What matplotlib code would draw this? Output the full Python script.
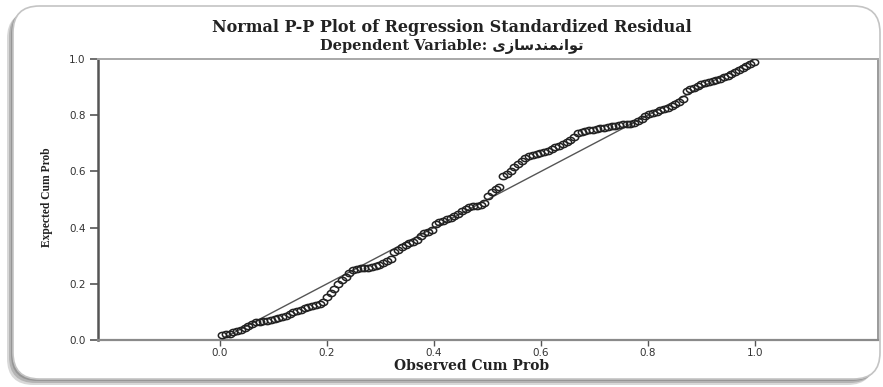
import matplotlib
matplotlib.use("Agg")
import matplotlib.pyplot as plt
from matplotlib.patches import FancyBboxPatch
from matplotlib.path import Path
import numpy as np

# ---- data ----
observed = [0.004, 0.011, 0.018, 0.025, 0.032, 0.039, 0.046, 0.053, 0.060, 0.067,
            0.074, 0.081, 0.088, 0.095, 0.102, 0.109, 0.116, 0.123, 0.130, 0.137,
            0.144, 0.151, 0.158, 0.165, 0.172, 0.179, 0.186, 0.193, 0.200, 0.207,
            0.214, 0.221, 0.228, 0.235, 0.242, 0.249, 0.256, 0.263, 0.270, 0.277,
            0.284, 0.291, 0.298, 0.305, 0.312, 0.319, 0.326, 0.333, 0.340, 0.347,
            0.354, 0.361, 0.368, 0.375, 0.382, 0.389, 0.396, 0.403, 0.410, 0.417,
            0.424, 0.431, 0.438, 0.445, 0.452, 0.459, 0.466, 0.473, 0.480, 0.487,
            0.494, 0.501, 0.508, 0.515, 0.522, 0.529, 0.536, 0.543, 0.550, 0.557,
            0.564, 0.571, 0.578, 0.585, 0.592, 0.599, 0.606, 0.613, 0.620, 0.627,
            0.634, 0.641, 0.648, 0.655, 0.662, 0.669, 0.676, 0.683, 0.690, 0.697,
            0.704, 0.711, 0.718, 0.725, 0.732, 0.739, 0.746, 0.753, 0.760, 0.767,
            0.774, 0.781, 0.788, 0.795, 0.802, 0.809, 0.816, 0.823, 0.830, 0.837,
            0.844, 0.851, 0.858, 0.865, 0.872, 0.879, 0.886, 0.893, 0.900, 0.907,
            0.914, 0.921, 0.928, 0.935, 0.942, 0.949, 0.956, 0.963, 0.970, 0.977,
            0.984, 0.991, 0.998]
expected = [0.017, 0.020, 0.023, 0.027, 0.031, 0.037, 0.044, 0.051, 0.058, 0.063,
            0.065, 0.067, 0.068, 0.071, 0.074, 0.078, 0.082, 0.087, 0.093, 0.100,
            0.104, 0.108, 0.113, 0.117, 0.120, 0.124, 0.128, 0.136, 0.152, 0.168,
            0.182, 0.200, 0.212, 0.225, 0.240, 0.248, 0.252, 0.255, 0.257, 0.258,
            0.260, 0.262, 0.268, 0.275, 0.282, 0.290, 0.314, 0.322, 0.330, 0.337,
            0.344, 0.350, 0.357, 0.370, 0.380, 0.386, 0.392, 0.412, 0.420, 0.425,
            0.430, 0.434, 0.440, 0.448, 0.458, 0.465, 0.472, 0.476, 0.478, 0.480,
            0.488, 0.512, 0.526, 0.536, 0.543, 0.582, 0.592, 0.602, 0.615, 0.626,
            0.637, 0.648, 0.654, 0.658, 0.661, 0.664, 0.668, 0.673, 0.680, 0.686,
            0.692, 0.698, 0.705, 0.712, 0.722, 0.736, 0.740, 0.743, 0.746, 0.749,
            0.752, 0.754, 0.755, 0.757, 0.760, 0.763, 0.765, 0.767, 0.768, 0.770,
            0.773, 0.779, 0.788, 0.796, 0.803, 0.808, 0.812, 0.817, 0.822, 0.827,
            0.833, 0.840, 0.847, 0.856, 0.885, 0.892, 0.898, 0.905, 0.910, 0.914,
            0.918, 0.922, 0.926, 0.930, 0.935, 0.940, 0.946, 0.952, 0.960, 0.968,
            0.976, 0.982, 0.988]
ref_line = [0.0, 1.0]
x_ticks = [0.0, 0.2, 0.4, 0.6, 0.8, 1.0]
y_ticks = [0.0, 0.2, 0.4, 0.6, 0.8, 1.0]
tick_labels = ["0.0", "0.2", "0.4", "0.6", "0.8", "1.0"]

title1 = "Normal P-P Plot of Regression Standardized Residual"
# Persian word توانمندسازی in presentation forms, visual (left-to-right) order
persian = "\uFBFC\uFEAF\uFE8E\uFEB3\uFEAA\uFEE8\uFEE4\uFEE7\uFE8D\uFEEE\uFE97"
title2 = "Dependent Variable: " + persian

W, H = 883, 387
fig = plt.figure(figsize=(W / 100, H / 100), dpi=100)
fig.patch.set_facecolor("white")

# outer rounded frame with soft shadow
for dx, c in [(6, "#d8d8d8"), (4, "#b4b4b4"), (2, "#969696")]:
    sh = FancyBboxPatch(((13 - dx) / W, (8 - dx) / H), 867 / W, 373 / H,
                        boxstyle="round,pad=0,rounding_size=0.03",
                        transform=fig.transFigure, facecolor=c,
                        edgecolor="none", zorder=0, mutation_aspect=W / H)
    fig.patches.append(sh)
frame = FancyBboxPatch((13 / W, 8 / H), 867 / W, 373 / H,
                       boxstyle="round,pad=0,rounding_size=0.03",
                       transform=fig.transFigure, facecolor="white",
                       edgecolor="#c4c4c4", linewidth=1.2, zorder=1,
                       mutation_aspect=W / H)
fig.patches.append(frame)

ax = fig.add_axes([98 / W, (H - 340) / H, (878 - 98) / W, (340 - 59) / H])
ax.set_facecolor("white")
ax.set_zorder(2)
x0, x1 = 220, 755
ax.set_xlim((98 - x0) / (x1 - x0), (878 - x0) / (x1 - x0))
ax.set_ylim(0, 1)

# slightly wide ellipse marker (the original picture is stretched horizontally)
t = np.linspace(0, 2 * np.pi, 40)
ell = Path(np.column_stack([np.cos(t), 0.75 * np.sin(t)]), closed=True)

ax.plot(ref_line, ref_line, color="#555555", linewidth=1.0, zorder=2)
ax.plot(observed, expected, linestyle="none", marker=ell, markersize=6.0,
        markerfacecolor="none", markeredgecolor="#222222",
        markeredgewidth=1.1, zorder=3)

ax.set_xticks(x_ticks)
ax.set_xticklabels(tick_labels)
ax.set_yticks(y_ticks)
ax.set_yticklabels(tick_labels)
for lab in ax.get_xticklabels() + ax.get_yticklabels():
    lab.set_family("DejaVu Sans")
    lab.set_fontsize(7.5)
    lab.set_color("#333333")
ax.tick_params(axis="x", length=4, width=1, color="#555555", pad=2)
ax.tick_params(axis="y", length=6, width=1.2, color="#555555", pad=3)

ax.spines["left"].set_color("#555555")
ax.spines["left"].set_linewidth(1.8)
ax.spines["bottom"].set_color("#8a8a8a")
ax.spines["bottom"].set_linewidth(1.6)
ax.spines["top"].set_color("#a8a8a8")
ax.spines["top"].set_linewidth(1.4)
ax.spines["right"].set_color("#9a9a9a")
ax.spines["right"].set_linewidth(1.4)

fig.text(452 / W, 1 - 28 / H, title1, ha="center", va="center",
         family=["DejaVu Serif", "DejaVu Sans"], fontweight="bold",
         fontsize=11.5, color="#222222")
fig.text(452 / W, 1 - 47 / H, title2, ha="center", va="center",
         family=["DejaVu Serif", "DejaVu Sans"], fontweight="bold",
         fontsize=10.5, color="#222222")
fig.text(472 / W, 1 - 366 / H, "Observed Cum Prob", ha="center", va="center",
         family=["DejaVu Serif"], fontweight="bold", fontsize=10,
         color="#222222")
fig.text(47 / W, 1 - 197 / H, "Expected Cum Prob", ha="center", va="center",
         rotation=90, family=["Liberation Serif"], fontweight="bold",
         fontsize=8.3, color="#222222")

fig.savefig("out.png", dpi=100, facecolor="white")
